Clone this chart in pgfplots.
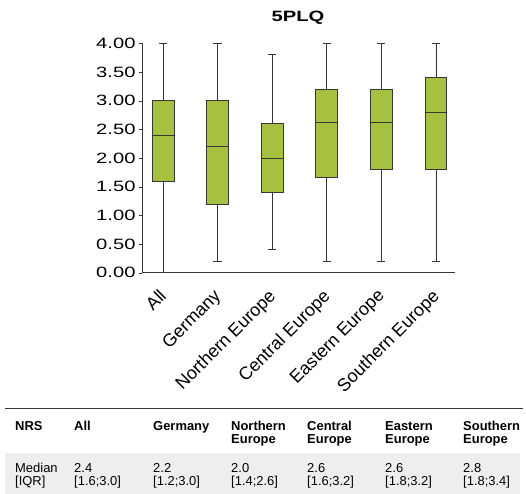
\documentclass[border=0pt]{standalone}
\usepackage{fontspec}
\setmainfont{Liberation Sans}
\newfontfamily\widefont[FakeStretch=1.35]{Liberation Sans}
\usepackage{pgfplots}
\pgfplotsset{compat=1.18}
\usepgfplotslibrary{statistics}
\definecolor{boxgreen}{RGB}{165,193,63}
\definecolor{axgray}{RGB}{55,55,55}
\definecolor{rowgray}{RGB}{238,238,238}
\begin{document}
\begin{tikzpicture}
\path[use as bounding box] (0bp,0bp) rectangle (526bp,-494bp);
\begin{axis}[at={(142bp,-272.7bp)}, anchor=south west, scale only axis,
 width=313bp, height=229.4bp,
 xmin=-0.385, xmax=5.35, ymin=0, ymax=4,
 axis lines=left, axis line style={axgray, line width=0.9pt, -},
 xtick={0,1,2,3,4,5},
 xticklabels={All,Germany,Northern Europe,Central Europe,Eastern Europe,Southern Europe},
 x tick label style={rotate=45, anchor=north east, font=\fontsize{18}{18}\selectfont, inner sep=1pt, xshift=-11bp, yshift=-4bp},
 ytick={0,0.5,1,1.5,2,2.5,3,3.5,4},
 /pgf/number format/assume math mode=true,
 yticklabel style={/pgf/number format/fixed, /pgf/number format/fixed zerofill, /pgf/number format/precision=2, font=\widefont\fontsize{15}{15}\selectfont},
 tick style={axgray}, major tick length=3bp, tick align=outside,
 x tick style={draw=none},
 clip=false,
 boxplot/draw direction=y,
]
\addplot[fill=boxgreen, draw=axgray, line width=0.7pt, boxplot prepared={draw position=0, lower whisker=0, lower quartile=1.6, median=2.4, upper quartile=3.0, upper whisker=4.0, box extend=0.4, whisker extend=0.15}] coordinates {};
\addplot[fill=boxgreen, draw=axgray, line width=0.7pt, boxplot prepared={draw position=1, lower whisker=0.2, lower quartile=1.2, median=2.2, upper quartile=3.0, upper whisker=4.0, box extend=0.4, whisker extend=0.15}] coordinates {};
\addplot[fill=boxgreen, draw=axgray, line width=0.7pt, boxplot prepared={draw position=2, lower whisker=0.4, lower quartile=1.4, median=2.0, upper quartile=2.6, upper whisker=3.8, box extend=0.4, whisker extend=0.15}] coordinates {};
\addplot[fill=boxgreen, draw=axgray, line width=0.7pt, boxplot prepared={draw position=3, lower whisker=0.2, lower quartile=1.66, median=2.62, upper quartile=3.2, upper whisker=4.0, box extend=0.4, whisker extend=0.15}] coordinates {};
\addplot[fill=boxgreen, draw=axgray, line width=0.7pt, boxplot prepared={draw position=4, lower whisker=0.2, lower quartile=1.8, median=2.62, upper quartile=3.2, upper whisker=4.0, box extend=0.4, whisker extend=0.15}] coordinates {};
\addplot[fill=boxgreen, draw=axgray, line width=0.7pt, boxplot prepared={draw position=5, lower whisker=0.2, lower quartile=1.8, median=2.8, upper quartile=3.4, upper whisker=4.0, box extend=0.4, whisker extend=0.15}] coordinates {};
\end{axis}
\node[font=\widefont\bfseries\fontsize{15}{15}\selectfont] at (298bp,-18bp) {5PLQ};
% table
\fill[rowgray] (5bp,-453bp) rectangle (520bp,-494bp);
\draw[axgray, line width=1pt] (5bp,-408bp) -- (523bp,-408bp);
\begin{scope}[every node/.style={anchor=base west, inner sep=0pt, font=\bfseries\fontsize{13}{13}\selectfont}]
\node at (15bp,-430bp) {NRS};
\node at (74bp,-430bp) {All};
\node at (153bp,-430bp) {Germany};
\node at (231bp,-430bp) {Northern};
\node at (231bp,-443bp) {Europe};
\node at (307bp,-430bp) {Central};
\node at (307bp,-443bp) {Europe};
\node at (385bp,-430bp) {Eastern};
\node at (385bp,-443bp) {Europe};
\node at (463bp,-430bp) {Southern};
\node at (463bp,-443bp) {Europe};
\end{scope}
\begin{scope}[every node/.style={anchor=base west, inner sep=0pt, font=\fontsize{13}{13}\selectfont}]
\node at (15bp,-472bp) {Median};
\node at (15bp,-485bp) {[IQR]};
\node at (74bp,-472bp) {2.4};
\node at (74bp,-485bp) {[1.6;3.0]};
\node at (153bp,-472bp) {2.2};
\node at (153bp,-485bp) {[1.2;3.0]};
\node at (231bp,-472bp) {2.0};
\node at (231bp,-485bp) {[1.4;2.6]};
\node at (307bp,-472bp) {2.6};
\node at (307bp,-485bp) {[1.6;3.2]};
\node at (385bp,-472bp) {2.6};
\node at (385bp,-485bp) {[1.8;3.2]};
\node at (463bp,-472bp) {2.8};
\node at (463bp,-485bp) {[1.8;3.4]};
\end{scope}
\end{tikzpicture}
\end{document}
